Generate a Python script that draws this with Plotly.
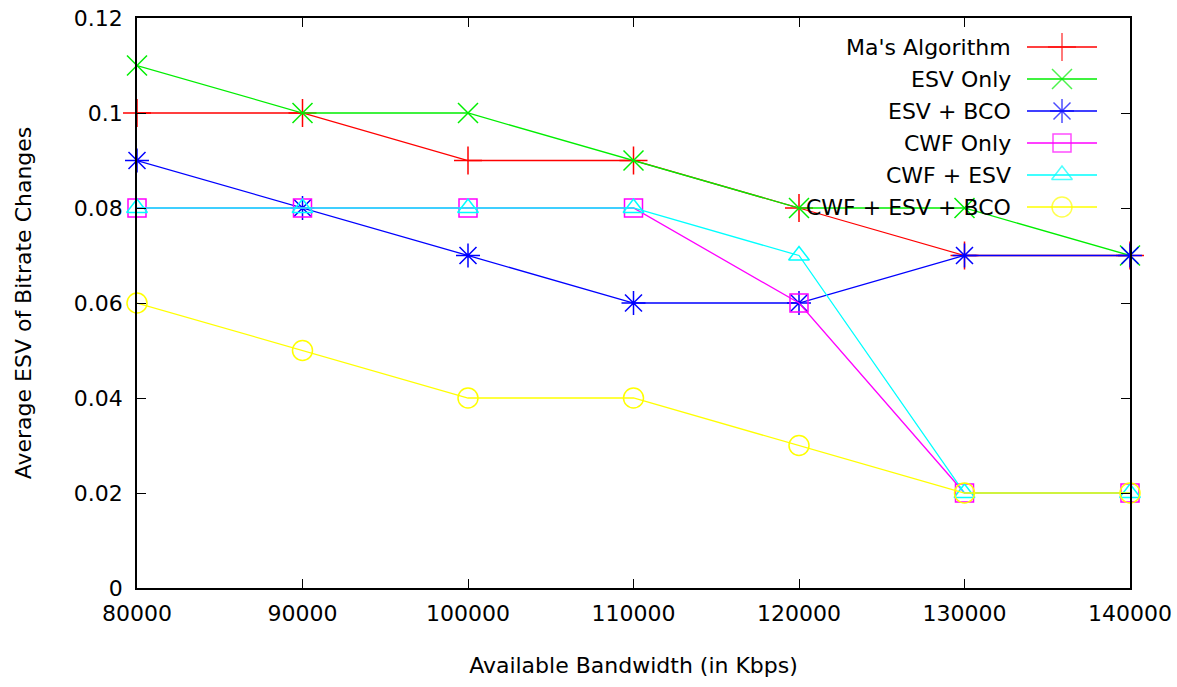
import plotly.graph_objects as go

bandwidth = [80000, 90000, 100000, 110000, 120000, 130000, 140000]
ma_algorithm = [0.10, 0.10, 0.09, 0.09, 0.08, 0.07, 0.07]
esv_only = [0.11, 0.10, 0.10, 0.09, 0.08, 0.08, 0.07]
esv_bco = [0.09, 0.08, 0.07, 0.06, 0.06, 0.07, 0.07]
cwf_only = [0.08, 0.08, 0.08, 0.08, 0.06, 0.02, 0.02]
cwf_esv = [0.08, 0.08, 0.08, 0.08, 0.07, 0.02, 0.02]
cwf_esv_bco = [0.06, 0.05, 0.04, 0.04, 0.03, 0.02, 0.02]

series_names = ["Ma's Algorithm", "ESV Only", "ESV + BCO", "CWF Only", "CWF + ESV", "CWF + ESV + BCO"]
series_values = [ma_algorithm, esv_only, esv_bco, cwf_only, cwf_esv, cwf_esv_bco]
colors = ["#ff0000", "#00ee00", "#0000ff", "#ff00ff", "#00ffff", "#ffff00"]
symbols = ["cross-thin-open", "x-thin-open", "asterisk-open", "square-open", "triangle-up-open", "circle-open"]
sizes = [20, 20, 20, 18, 18, 20]

FONT = "DejaVu Sans"
fig = go.Figure()

for name, vals, c, s, sz in zip(series_names, series_values, colors, symbols, sizes):
    fig.add_trace(go.Scatter(
        x=bandwidth, y=vals, mode="lines+markers", name=name,
        line=dict(color=c, width=1.3),
        marker=dict(symbol=s, size=sz, color=c, line=dict(color=c, width=1.5)),
        showlegend=False, cliponaxis=False,
    ))

# gnuplot-style legend (text right, key sample on the right) in pixel-like overlay axes
leg_y0, leg_dy = 47, 32
for i, (name, c, s, sz) in enumerate(zip(series_names, colors, symbols, sizes)):
    yy = leg_y0 + i * leg_dy
    fig.add_trace(go.Scatter(
        x=[1027, 1062, 1097], y=[yy, yy, yy], mode="lines+markers",
        line=dict(color=c, width=1.3),
        marker=dict(symbol=s, size=[0, sz, 0], color=c, line=dict(color=c, width=1.5)),
        xaxis="x2", yaxis="y2", showlegend=False, hoverinfo="skip",
    ))
    fig.add_annotation(x=1013, y=yy, xref="x2", yref="y2", text=name, showarrow=False,
                       xanchor="right", yanchor="middle",
                       font=dict(family=FONT, size=22, color="black"))

axis_common = dict(showgrid=False, zeroline=False, showline=True, linecolor="black", linewidth=1.5,
                   mirror="ticks", ticks="inside", ticklen=9, tickcolor="black", tickwidth=1,
                   automargin=False,
                   tickfont=dict(family=FONT, size=22, color="black"))

fig.update_layout(
    width=1177, height=687,
    margin=dict(l=137, r=47, t=18, b=99),
    plot_bgcolor="white", paper_bgcolor="white",
    xaxis=dict(range=[80000, 140000], tickvals=bandwidth, ticktext=[str(v) for v in bandwidth],
               title=dict(text="Available Bandwidth (in Kbps)", font=dict(family=FONT, size=22, color="black"), standoff=32),
               ticklabelstandoff=5, **axis_common),
    yaxis=dict(range=[0, 0.12], tickvals=[0, 0.02, 0.04, 0.06, 0.08, 0.1, 0.12],
               ticktext=["0", "0.02", "0.04", "0.06", "0.08", "0.1", "0.12"],
               title=dict(text="Average ESV of Bitrate Changes", font=dict(family=FONT, size=22, color="black"), standoff=36),
               ticklabelstandoff=8, **axis_common),
    xaxis2=dict(range=[137, 1130], overlaying="x", visible=False, anchor="y2"),
    yaxis2=dict(range=[588, 18], overlaying="y", visible=False, anchor="x2"),
    showlegend=False,
)

fig.write_html("out.html")
